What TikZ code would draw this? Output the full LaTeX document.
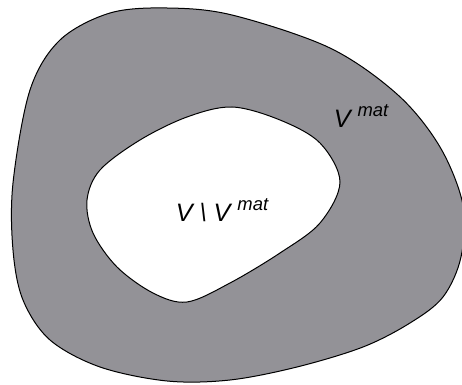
\documentclass[tikz,border=0pt]{standalone}
\usepackage{fontspec}
\setmainfont{Liberation Sans}
\usepackage{tikz}
\definecolor{regiongrey}{RGB}{147,146,151}
\newcommand{\supmat}{\hspace{3.5pt}\raisebox{5.5pt}{\fontsize{9.2}{9.2}\selectfont\itshape mat}}

\begin{document}
\begin{tikzpicture}[
x=0.5pt, y=-0.5pt,
region/.style={draw=black, line width=0.5pt, smooth cycle, tension=0.55},
lbl/.style={inner sep=0pt, anchor=base, font=\fontsize{12.6}{12.6}\selectfont\itshape}
]
\useasboundingbox (0,0) rectangle (462,385);
% outer region
\draw[region, fill=regiongrey] plot coordinates {
  (13,183) (30,90) (60,40) (110,13) (167,8) (232,15) (330,48) (398,95)
  (440,147) (463,205) (461,257) (443,297) (410,323) (363,347) (297,367)
  (230,380) (167,381) (100,367) (50,340) (23,300) (13,250)};
% inner region
\draw[region, fill=white] plot coordinates {
  (232,107) (280,120) (320,143) (340,182) (320,223) (280,253) (230,283)
  (187,302) (153,293) (117,267) (93,233) (87,200) (100,170) (140,140)
  (187,117)};
\node[lbl] (vmat) at (361,128) {V\supmat};
\node[lbl] (vminus) at (222,222) {V \textbackslash{} V\supmat};
\end{tikzpicture}
\end{document}
